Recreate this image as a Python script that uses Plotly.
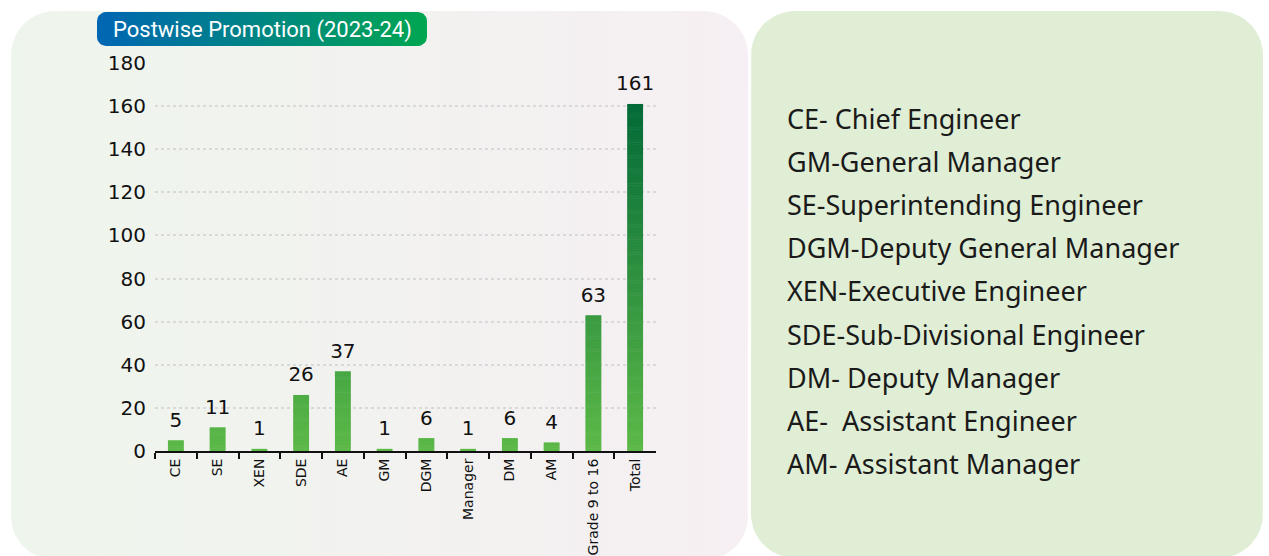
import numpy as np
import plotly.graph_objects as go

# ---------------- data ----------------
categories = ["CE", "SE", "XEN", "SDE", "AE", "GM", "DGM", "Manager", "DM", "AM", "Grade 9 to 16", "Total"]
promotions = [5, 11, 1, 26, 37, 1, 6, 1, 6, 4, 63, 161]
y_ticks = [0, 20, 40, 60, 80, 100, 120, 140, 160, 180]
title_text = "Postwise Promotion (2023-24)"
glossary = [
    "CE- Chief Engineer",
    "GM-General Manager",
    "SE-Superintending Engineer",
    "DGM-Deputy General Manager",
    "XEN-Executive Engineer",
    "SDE-Sub-Divisional Engineer",
    "DM- Deputy Manager",
    "AE-  Assistant Engineer",
    "AM- Assistant Manager",
]

W, H = 1269, 556
FONT = "Noto Sans"
NUMFONT = "DejaVu Sans"


def lerp_color(c1, c2, t):
    t = max(0.0, min(1.0, t))
    a = [int(c1[i:i + 2], 16) for i in (1, 3, 5)]
    b = [int(c2[i:i + 2], 16) for i in (1, 3, 5)]
    return "rgb(%d,%d,%d)" % tuple(round(a[i] + (b[i] - a[i]) * t) for i in range(3))


def rounded_rect(x0, y0, x1, y1, r, n=16):
    xs, ys = [], []
    corners = [
        (x1 - r, y0 + r, -np.pi / 2, 0),
        (x1 - r, y1 - r, 0, np.pi / 2),
        (x0 + r, y1 - r, np.pi / 2, np.pi),
        (x0 + r, y0 + r, np.pi, 1.5 * np.pi),
    ]
    for cx, cy, a0, a1 in corners:
        for a in np.linspace(a0, a1, n):
            xs.append(cx + r * np.cos(a))
            ys.append(cy + r * np.sin(a))
    xs.append(xs[0]); ys.append(ys[0])
    return xs, ys


fig = go.Figure()

# ---------- background panels (pixel-coordinate axes x/y) ----------
lx, ly = rounded_rect(11, 11, 748, 560, 44)
fig.add_trace(go.Scatter(
    x=lx, y=ly, mode="lines", fill="toself", line=dict(width=0),
    fillgradient=dict(type="horizontal", colorscale=[[0, "#eef5ec"], [1, "#f6eff3"]]),
    hoverinfo="skip", showlegend=False, xaxis="x", yaxis="y"))

rx, ry = rounded_rect(751, 11, 1263, 558, 44)
fig.add_trace(go.Scatter(
    x=rx, y=ry, mode="lines", fill="toself", line=dict(width=0),
    fillcolor="#e0eed5", hoverinfo="skip", showlegend=False, xaxis="x", yaxis="y"))

tx, ty = rounded_rect(97, 12, 427, 46, 9, n=8)
fig.add_trace(go.Scatter(
    x=tx, y=ty, mode="lines", fill="toself", line=dict(width=0),
    fillgradient=dict(type="horizontal", colorscale=[[0, "#0066b3"], [1, "#00a651"]]),
    hoverinfo="skip", showlegend=False, xaxis="x", yaxis="y"))

# ---------- gradient bars built from stacked segments ----------
step = 1.0
seg_x, seg_h, seg_b, seg_c = [], [], [], []
for cat, v in zip(categories, promotions):
    base = 0.0
    while base < v:
        h = min(step, v - base)
        seg_x.append(cat)
        seg_h.append(h + (0.25 if base + h < v else 0))
        seg_b.append(base)
        seg_c.append(lerp_color("#5cb947", "#006837", (base + h / 2) / 165.0))
        base += h

fig.add_trace(go.Bar(
    x=seg_x, y=seg_h, base=seg_b, width=0.38,
    marker=dict(color=seg_c, line=dict(width=0)),
    hoverinfo="skip", showlegend=False, xaxis="x2", yaxis="y2"))

fig.add_trace(go.Scatter(
    x=categories, y=promotions, mode="markers+text", text=[str(v) for v in promotions],
    marker=dict(size=12, color="rgba(0,0,0,0)"),
    textposition="top center", textfont=dict(family=NUMFONT, size=20, color="#111111"),
    cliponaxis=False, hoverinfo="skip", showlegend=False, xaxis="x2", yaxis="y2"))

# ---------- annotations ----------
annotations = [dict(
    x=262, y=30, xref="x", yref="y", text=title_text, showarrow=False,
    font=dict(family="Roboto", size=22, color="white"),
    xanchor="center", yanchor="middle")]
for i, line in enumerate(glossary):
    annotations.append(dict(
        x=785, y=118 + i * 43.2, xref="x", yref="y", text=line, showarrow=False,
        font=dict(family=FONT, size=27, color="#1a1a1a"), xanchor="left", yanchor="middle"))

fig.update_layout(
    width=W, height=H, margin=dict(l=0, r=0, t=0, b=0, pad=0, autoexpand=False),
    autosize=False,
    paper_bgcolor="white", plot_bgcolor="rgba(0,0,0,0)",
    barmode="overlay", showlegend=False,
    annotations=annotations,
    xaxis=dict(domain=[0, 1], range=[0, W], visible=False, fixedrange=True, automargin=False),
    yaxis=dict(domain=[0, 1], range=[H, 0], visible=False, fixedrange=True, automargin=False),
    xaxis2=dict(
        domain=[155 / W, 656 / W], anchor="y2", type="category",
        categoryorder="array", categoryarray=categories, automargin=False,
        range=[-0.5, len(categories) - 0.5],
        showline=True, linecolor="#111111", linewidth=2,
        ticks="outside", tickson="boundaries", ticklen=6, tickwidth=1.5, tickcolor="#111111",
        tickangle=-90, tickfont=dict(family=NUMFONT, size=14, color="#111111"),
        showgrid=False, fixedrange=True),
    yaxis2=dict(
        domain=[1 - 451 / H, 1 - 63 / H], anchor="x2", range=[0, 180], automargin=False,
        tickvals=y_ticks, tickfont=dict(family=NUMFONT, size=20, color="#111111"),
        showgrid=True, gridcolor="#d9d9d9", gridwidth=1.5, griddash="dot",
        zeroline=False, showline=False, ticks="", ticklabelstandoff=8, fixedrange=True),
)

fig.write_html(
    "out.html",
    config={"displayModeBar": False},
    post_script="document.body.style.margin='0';document.body.style.overflow='hidden';",
)
